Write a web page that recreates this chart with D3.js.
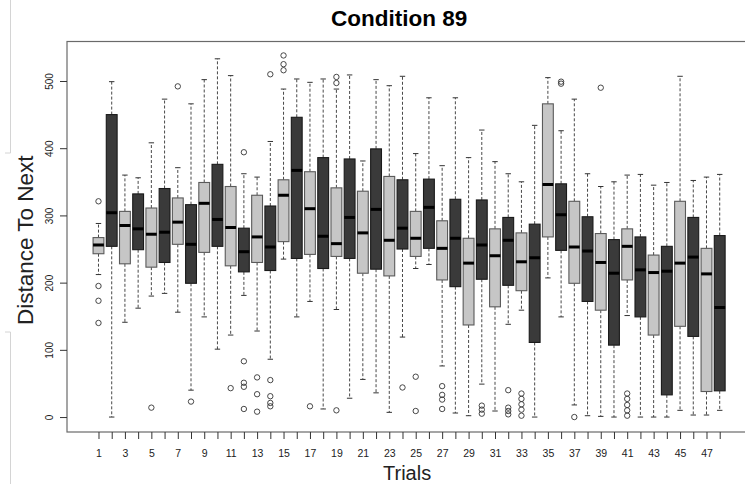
<!DOCTYPE html>
<html>
<head>
<meta charset="utf-8">
<script src="https://cdn.jsdelivr.net/npm/d3@7"></script>
<style>
    body { margin: 0; background: #fff; }
    svg { display: block; font-family: "Liberation Sans", Arial, Helvetica, sans-serif; }
</style>
</head>
<body>
<svg id="chart" width="745" height="484"></svg>
<script>
// one box per trial, odd trials light, even trials dark
var trials = [1, 2, 3, 4, 5, 6, 7, 8, 9, 10, 11, 12, 13, 14, 15, 16, 17, 18, 19, 20, 21, 22, 23, 24,
              25, 26, 27, 28, 29, 30, 31, 32, 33, 34, 35, 36, 37, 38, 39, 40, 41, 42, 43, 44, 45, 46, 47, 48];

var lowWhisker = [212, 0, 141, 162, 180, 184, 156, 40, 149, 101, 122, 181, 128, 86, 235, 149,
                  172, 12, 160, 28, 56, 36, 7, 119, 221, 227, 76, 6, 2, 49, 9, 138,
                  159, 0, 207, 149, 18, 2, 1, 0, 151, 0, 0, 0, 10, 3, 3, 10];
var q1 = [243, 254, 228, 249, 223, 230, 257, 199, 245, 254, 225, 216, 230, 218, 261, 236,
          242, 221, 239, 236, 214, 220, 210, 250, 239, 251, 204, 194, 137, 205, 164, 196,
          188, 111, 268, 248, 199, 172, 159, 107, 204, 149, 122, 33, 135, 120, 38, 39];
var medians = [256, 304, 285, 280, 272, 275, 290, 257, 318, 294, 282, 246, 268, 253, 330, 367,
               310, 269, 258, 297, 274, 309, 263, 281, 266, 312, 251, 266, 229, 256, 240, 263,
               231, 237, 346, 301, 253, 247, 230, 214, 254, 219, 215, 217, 229, 238, 213, 163];
var q3 = [267, 450, 306, 332, 311, 340, 326, 316, 349, 376, 343, 281, 330, 314, 353, 446,
          365, 386, 341, 384, 336, 399, 358, 353, 306, 354, 292, 324, 266, 323, 280, 297,
          274, 287, 466, 347, 321, 298, 273, 264, 280, 268, 241, 254, 321, 297, 251, 270];
var highWhisker = [288, 499, 360, 356, 408, 473, 371, 466, 502, 533, 508, 362, 357, 410, 488, 503,
                   498, 503, 488, 509, 381, 502, 493, 507, 392, 475, 374, 475, 386, 427, 380, 362,
                   350, 434, 505, 426, 473, 362, 343, 350, 360, 361, 345, 349, 507, 352, 357, 361];
var outliers = [
    [321, 195, 173, 140], [], [], [], [14], [], [492], [23], [], [], [43], [394, 83, 51, 45, 12],
    [59, 34, 8], [510, 55, 31, 21, 16], [538, 525, 516], [], [16], [], [506, 497, 10], [], [], [], [], [44],
    [60, 9], [], [46, 33, 26, 12], [], [], [17, 11, 5], [], [40, 14, 9, 4],
    [35, 27, 19, 11, 2], [], [], [499, 496], [0], [], [490], [], [35, 27, 18, 10, 2], [], [], [],
    [], [], [], []
];

var yTicks = [0, 100, 200, 300, 400, 500];
var xTickLabels = [1, 3, 5, 7, 9, 11, 13, 15, 17, 19, 21, 23, 25, 27, 29, 31, 33, 35, 37, 39, 41, 43, 45, 47];

var svg = d3.select("#chart");

// plot region; the right edge runs off the picture like in the original
var x = d3.scaleLinear().domain([-1.42, 50.42]).range([66.5, 751.7]);
var y = d3.scaleLinear().domain([-21.5, 559.5]).range([431.5, 41]);

var boxW = 0.82 * (x(2) - x(1)),
    stapleW = boxW / 2;

// faint page edge on the left
var edge = svg.append("g").attr("stroke", "#d4d4d4").attr("fill", "none");
edge.append("path").attr("d", "M10.5,0V153H5");
edge.append("path").attr("d", "M5,332H10.5V484");

// frame
svg.append("rect")
    .attr("x", x(-1.42) + 0.5)
    .attr("y", y(559.5) + 0.5)
    .attr("width", x(50.42) - x(-1.42))
    .attr("height", y(-21.5) - y(559.5))
    .attr("fill", "none")
    .attr("stroke", "#6a6a6a")
    .attr("stroke-width", 1.2);

// y axis
var yAxis = d3.axisLeft(y).tickValues(yTicks).tickSize(7).tickPadding(0);
var gy = svg.append("g").attr("transform", "translate(" + (x(-1.42) + 0.5) + ",0)").call(yAxis);
gy.select(".domain").remove();
gy.selectAll(".tick line").attr("stroke", "#333");
gy.selectAll(".tick text")
    .attr("x", null).attr("dy", null)
    .attr("text-anchor", "middle")
    .attr("font-size", 10)
    .attr("fill", "#222")
    .attr("transform", "translate(-14,0) rotate(-90)");

// x axis
var xAxis = d3.axisBottom(x)
    .tickValues(trials)
    .tickSize(7)
    .tickFormat(function (d) { return xTickLabels.indexOf(d) >= 0 ? d : ""; });
var gx = svg.append("g").attr("transform", "translate(0," + (y(-21.5) + 0.5) + ")").call(xAxis);
gx.select(".domain").remove();
gx.selectAll(".tick line").attr("stroke", "#333");
gx.selectAll(".tick text")
    .attr("y", 25).attr("dy", null)
    .attr("font-size", 10.5)
    .attr("fill", "#222");

// boxes
var boxes = svg.append("g").selectAll("g.box")
    .data(trials)
  .enter()
    .append("g")
    .attr("class", "box");

function dark(t) { return t % 2 === 0; }

boxes.append("line")
    .attr("x1", function (t) { return x(t); })
    .attr("x2", function (t) { return x(t); })
    .attr("y1", function (t, i) { return y(q3[i]); })
    .attr("y2", function (t, i) { return y(highWhisker[i]); })
    .attr("stroke", "#333").attr("stroke-width", 0.9).attr("stroke-dasharray", "3,2");
boxes.append("line")
    .attr("x1", function (t) { return x(t); })
    .attr("x2", function (t) { return x(t); })
    .attr("y1", function (t, i) { return y(q1[i]); })
    .attr("y2", function (t, i) { return y(lowWhisker[i]); })
    .attr("stroke", "#333").attr("stroke-width", 0.9).attr("stroke-dasharray", "3,2");

// staples
[highWhisker, lowWhisker].forEach(function (arr) {
    boxes.append("line")
        .attr("x1", function (t) { return x(t) - stapleW / 2; })
        .attr("x2", function (t) { return x(t) + stapleW / 2; })
        .attr("y1", function (t, i) { return y(arr[i]); })
        .attr("y2", function (t, i) { return y(arr[i]); })
        .attr("stroke", "#333").attr("stroke-width", 1);
});

boxes.append("rect")
    .attr("x", function (t) { return x(t) - boxW / 2; })
    .attr("y", function (t, i) { return y(q3[i]); })
    .attr("width", boxW)
    .attr("height", function (t, i) { return y(q1[i]) - y(q3[i]); })
    .attr("fill", function (t) { return dark(t) ? "#3a3a3a" : "#c6c6c6"; })
    .attr("stroke", function (t) { return dark(t) ? "#1a1a1a" : "#5a5a5a"; })
    .attr("stroke-width", 1.1);

boxes.append("line")
    .attr("x1", function (t) { return x(t) - boxW / 2; })
    .attr("x2", function (t) { return x(t) + boxW / 2; })
    .attr("y1", function (t, i) { return y(medians[i]); })
    .attr("y2", function (t, i) { return y(medians[i]); })
    .attr("stroke", "#000").attr("stroke-width", 3);

boxes.selectAll("circle")
    .data(function (t, i) { return outliers[i].map(function (v) { return { t: t, v: v }; }); })
  .enter()
    .append("circle")
    .attr("cx", function (d) { return x(d.t); })
    .attr("cy", function (d) { return y(d.v); })
    .attr("r", 2.7)
    .attr("fill", "none")
    .attr("stroke", "#333")
    .attr("stroke-width", 0.9);

// titles
var midX = (x(-1.42) + x(50.42)) / 2;
svg.append("text")
    .attr("x", midX - 10).attr("y", 26)
    .attr("text-anchor", "middle")
    .attr("font-size", 22.5).attr("font-weight", "bold")
    .text("Condition 89");
svg.append("text")
    .attr("x", midX - 2).attr("y", 480)
    .attr("text-anchor", "middle")
    .attr("font-size", 20)
    .attr("fill", "#222")
    .text("Trials");
svg.append("text")
    .attr("transform", "translate(33," + ((y(-21.5) + y(559.5)) / 2 + 4) + ") rotate(-90)")
    .attr("text-anchor", "middle")
    .attr("font-size", 22.5)
    .attr("fill", "#222")
    .text("Distance To Next");
</script>
</body>
</html>
